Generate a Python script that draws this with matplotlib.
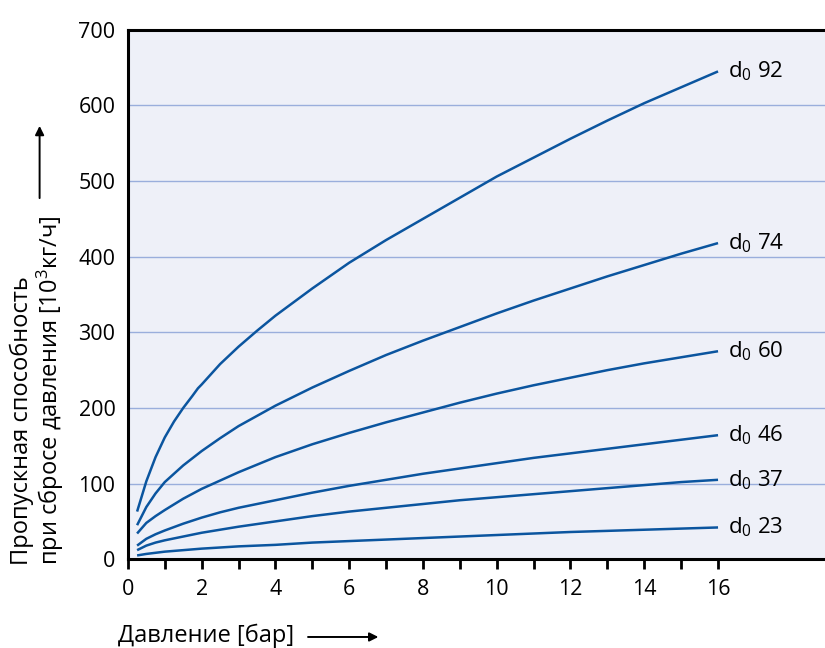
import matplotlib
matplotlib.use('Agg')
import matplotlib.pyplot as plt
from matplotlib.ticker import MultipleLocator

plt.rcParams['font.family'] = ['Open Sans', 'DejaVu Sans']
plt.rcParams['mathtext.default'] = 'regular'

p92 = [0.25, 0.5, 0.75, 1, 1.25, 1.5, 1.75, 1.9, 2, 2.5, 3, 3.5, 4, 5, 6, 7, 8, 9, 10, 11, 12, 13, 14, 15, 16]
q92 = [63, 103, 135, 161, 182, 200, 216, 226, 231, 258, 281, 302, 322, 358, 392, 422, 450, 478, 506, 531, 556, 580, 603, 624, 645]

p_std = [0.25, 0.5, 0.75, 1, 1.5, 2, 2.5, 3, 4, 5, 6, 7, 8, 9, 10, 11, 12, 13, 14, 15, 16]
q74 = [45, 69, 87, 102, 124, 143, 160, 176, 203, 227, 249, 270, 289, 307, 325, 342, 358, 374, 389, 404, 418]
q60 = [34, 48, 57, 65, 80, 93, 104, 115, 135, 152, 167, 181, 194, 207, 219, 230, 240, 250, 259, 267, 275]
q46 = [18, 27, 33, 38, 47, 55, 62, 68, 78, 88, 97, 105, 113, 120, 127, 134, 140, 146, 152, 158, 164]
q37 = [12, 18, 22, 25, 30, 35, 39, 43, 50, 57, 63, 68, 73, 78, 82, 86, 90, 94, 98, 102, 105]
q23 = [5, 7, 8.5, 10, 12, 14, 15.5, 17, 19, 22, 24, 26, 28, 30, 32, 34, 36, 37.5, 39, 40.5, 42]

series = [
    ('92', p92, q92),
    ('74', p_std, q74),
    ('60', p_std, q60),
    ('46', p_std, q46),
    ('37', p_std, q37),
    ('23', p_std, q23),
]

line_color = '#0b559f'

fig = plt.figure(figsize=(8.25, 6.48), dpi=100)
ax = fig.add_axes([0.155, 0.137, 0.845, 0.817])
ax.set_facecolor('#eef0f8')

for name, x, y in series:
    ax.plot(x, y, color=line_color, lw=1.8, solid_capstyle='butt')
    ax.text(x[-1] + 0.27, y[-1], 'd$_0$ ' + name, fontsize=16, va='center', ha='left')

ax.set_xlim(0, 18.9)
ax.set_ylim(0, 700)

ax.yaxis.set_major_locator(MultipleLocator(100))
ax.grid(axis='y', color='#9aaedc', lw=1)
ax.set_axisbelow(True)

ax.set_xticks(range(0, 17, 2))
ax.set_xticks(range(1, 17, 2), minor=True)
ax.tick_params(axis='x', which='both', direction='out', length=7, width=2,
               labelsize=15.5, pad=7, color='black')
ax.tick_params(axis='y', length=0, labelsize=15.5, pad=9)

for side in ['left', 'bottom', 'top']:
    ax.spines[side].set_linewidth(2.2)
    ax.spines[side].set_color('black')
ax.spines['right'].set_visible(False)

# axis titles with arrows
fig.text(0.143, 0.019, 'Давление [бар]', fontsize=17, ha='left', va='center')
fig.patches.append(matplotlib.patches.FancyArrowPatch(
    (0.37, 0.017), (0.462, 0.017), transform=fig.transFigure,
    arrowstyle='-|>', mutation_scale=13, color='black', lw=1.4))

fig.text(0.046, 0.128, 'Пропускная способность\nпри сбросе давления [10$^3$кг/ч]',
         fontsize=17, rotation=90, ha='center', va='bottom',
         multialignment='left', linespacing=1.05)
fig.patches.append(matplotlib.patches.FancyArrowPatch(
    (0.048, 0.69), (0.048, 0.81), transform=fig.transFigure,
    arrowstyle='-|>', mutation_scale=13, color='black', lw=1.4))

fig.savefig('out.png', dpi=100)
